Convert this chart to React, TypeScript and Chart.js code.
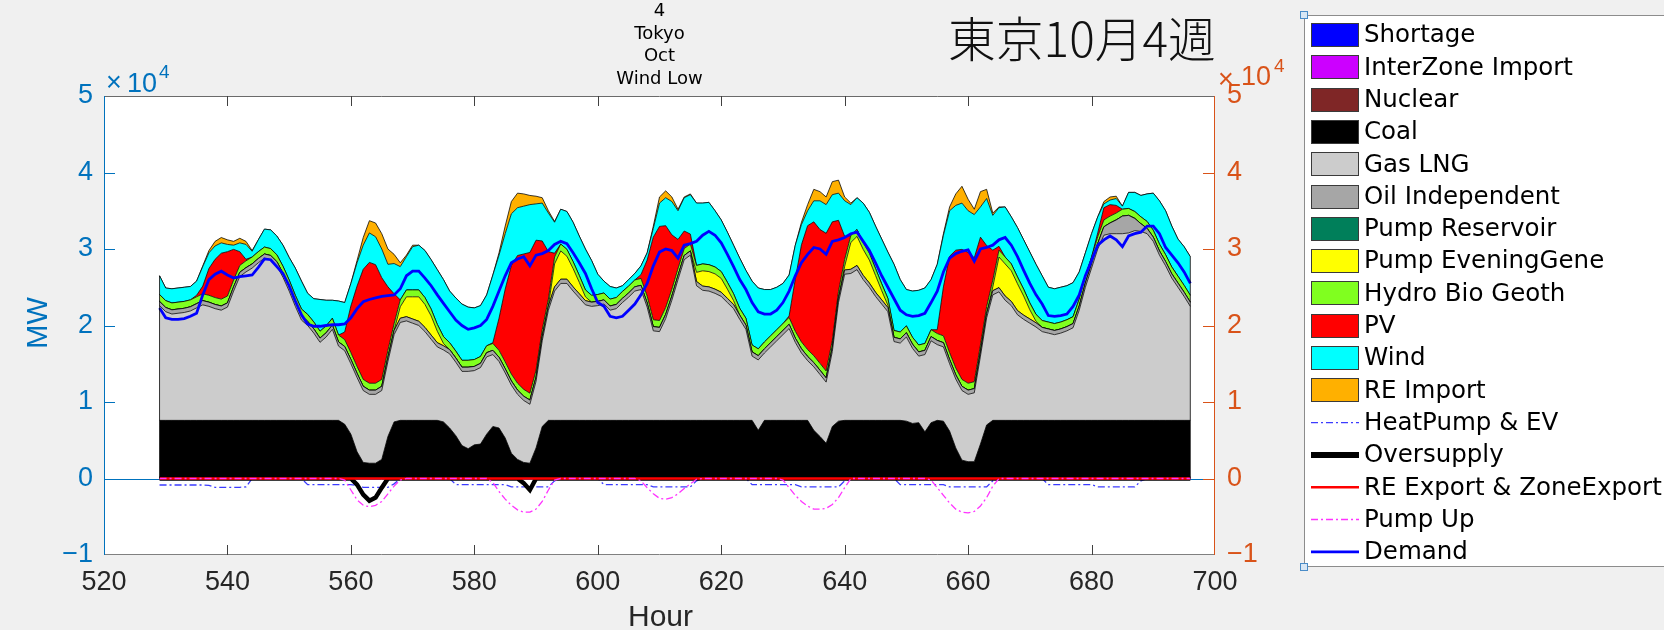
import React, { useEffect, useRef } from "react";
import { Chart, registerables } from "chart.js";

Chart.register(...registerables);

// ---------------- categories / ticks ----------------
const HOURS: number[] = Array.from({ length: 168 }, (_, i) => 529 + i);
const X_TICKS = [520, 540, 560, 580, 600, 620, 640, 660, 680, 700];
const Y_TICKS = [-10000, 0, 10000, 20000, 30000, 40000, 50000];
const TITLE_LINES = ["4", "Tokyo", "Oct", "Wind Low"];
const JP_TITLE = "東京10月4週";

// ---------------- series (MW), one row per day ----------------
const ZERO_SERIES = [
  0,0,0,0,0,0,0,0,0,0,0,0,0,0,0,0,0,0,0,0,0,0,0,0,
  0,0,0,0,0,0,0,0,0,0,0,0,0,0,0,0,0,0,0,0,0,0,0,0,
  0,0,0,0,0,0,0,0,0,0,0,0,0,0,0,0,0,0,0,0,0,0,0,0,
  0,0,0,0,0,0,0,0,0,0,0,0,0,0,0,0,0,0,0,0,0,0,0,0,
  0,0,0,0,0,0,0,0,0,0,0,0,0,0,0,0,0,0,0,0,0,0,0,0,
  0,0,0,0,0,0,0,0,0,0,0,0,0,0,0,0,0,0,0,0,0,0,0,0,
  0,0,0,0,0,0,0,0,0,0,0,0,0,0,0,0,0,0,0,0,0,0,0,0,
];
const shortage = ZERO_SERIES;
const interZoneImport = ZERO_SERIES;
const nuclear = ZERO_SERIES;
const pumpReservoir = ZERO_SERIES;
const reExport = ZERO_SERIES;

const coal = [
  7600,7600,7600,7600,7600,7600,7600,7600,7600,7600,7600,7600,7600,7600,7600,7600,7600,7600,7600,7600,7600,7600,7600,7600,
  7600,7600,7600,7600,7600,7600,7100,5800,3500,2100,2000,2000,2500,5500,7400,7600,7600,7600,7600,7600,7600,7600,7400,6600,
  5600,4300,3900,4400,4500,5800,6800,6600,5300,3300,2500,2100,2000,4000,6800,7600,7600,7600,7600,7600,7600,7600,7600,7600,
  7600,7600,7600,7600,7600,7600,7600,7600,7600,7600,7600,7600,7600,7600,7600,7600,7600,7600,7600,7600,7600,7600,7600,7600,
  7600,6300,7600,7600,7600,7600,7600,7600,7600,7600,6300,5500,4600,6800,7500,7600,7600,7600,7600,7600,7600,7600,7600,7600,
  7600,7500,7200,7300,6100,7300,7600,7500,6200,4000,2400,2200,2200,4500,7000,7600,7600,7600,7600,7600,7600,7600,7600,7600,
  7600,7600,7600,7600,7600,7600,7600,7600,7600,7600,7600,7600,7600,7600,7600,7600,7600,7600,7600,7600,7600,7600,7600,7600,
];

const gasLNG = [
  15000,14200,13900,14000,14100,14300,14700,15100,14900,14600,14400,14800,16900,18800,19400,19900,20600,21200,21000,20200,18700,16900,14900,13100,
  12400,11400,10200,10900,11900,9700,9600,9200,9700,9400,9000,9000,9000,9800,11400,12800,13000,12700,12400,11600,10600,9600,9400,9700,
  9600,9700,10100,9700,10000,10100,9400,8700,8500,8900,8500,8100,7700,8700,11200,14400,16900,17900,17900,16900,16000,15100,14900,15000,
  15200,14400,14600,15400,16100,16900,17100,14800,11700,11600,13300,15700,18400,21000,21600,17600,17000,16900,16600,16200,15400,14600,13200,11900,
  8400,9200,8800,9600,10400,11200,12000,10200,8800,7800,8300,8100,8000,9800,15500,19100,19200,19700,18400,17400,16200,15200,14200,10300,
  10100,11000,9800,8700,10100,10700,9900,9700,8800,9000,9100,8800,9000,11500,14000,16400,16800,15700,15000,13800,13200,12700,12200,11600,
  11400,11200,11400,11700,12100,14400,17400,19900,22400,24200,24400,24400,24400,24500,24800,24700,24400,23400,21600,20200,18600,17400,16200,14900,
];

const oilIndependent = [
  550,550,550,550,550,550,550,550,550,550,550,550,550,550,550,550,550,550,550,550,550,550,550,550,
  550,550,550,550,550,550,550,550,550,550,550,550,550,550,550,550,550,550,550,550,550,550,550,550,
  550,550,550,550,550,550,550,550,550,550,550,550,550,550,550,550,550,550,550,550,550,550,550,550,
  550,550,550,550,550,550,550,550,550,550,550,550,550,550,550,550,550,550,550,550,550,550,550,550,
  550,550,550,550,550,550,550,550,550,550,550,550,550,550,550,550,550,550,550,550,550,550,550,550,
  550,550,550,550,550,550,550,550,550,550,550,550,550,550,550,550,550,550,550,550,550,550,550,550,
  550,550,550,550,550,550,550,550,700,1100,1400,1800,2300,2300,1600,1000,700,550,550,550,550,550,550,550,
];

const pumpEveningGene = [
  0,0,0,0,0,0,0,0,0,0,0,0,0,0,0,0,0,0,0,0,0,0,0,0,
  0,0,0,0,0,0,0,0,0,0,0,0,0,0,0,1500,2600,2900,3200,3000,2500,1500,300,0,
  0,0,0,0,0,0,0,0,0,0,0,0,0,0,0,0,3000,3700,3000,2400,1500,500,0,0,
  0,0,0,0,0,0,0,0,0,0,0,0,0,0,0,1200,2000,2000,2000,1800,1200,500,0,0,
  0,0,0,0,0,0,0,0,0,0,0,0,0,0,0,500,3500,3800,3400,3000,2200,1200,300,0,
  0,0,0,0,0,0,0,0,0,0,0,0,0,0,0,500,4000,4200,4000,3500,2500,1200,200,0,
  0,0,0,0,0,0,0,0,0,0,0,0,0,0,0,0,0,0,0,0,0,0,0,0,
];

const hydroBioGeoth = [
  900,900,900,900,900,900,900,900,900,900,900,900,900,900,900,900,900,900,900,900,900,900,900,900,
  900,900,900,900,900,900,900,900,900,900,900,900,900,900,900,900,900,900,900,900,900,900,900,900,
  900,900,900,900,900,900,900,900,900,900,900,900,900,900,900,900,900,900,900,900,900,900,900,900,
  900,900,900,900,900,900,900,900,900,900,900,900,900,900,900,900,900,900,900,900,900,900,900,900,
  900,900,900,900,900,900,900,900,900,900,900,900,900,900,900,900,900,900,900,900,900,900,900,900,
  900,900,900,900,900,900,900,900,900,900,900,900,900,900,900,900,900,900,900,900,900,900,900,900,
  900,900,900,900,900,900,900,900,900,900,900,900,900,900,900,900,900,900,900,900,900,900,900,900,
];

const pv = [
  0,0,0,0,0,0,200,1000,3500,5000,6000,5800,4000,1800,200,0,0,0,0,0,0,0,0,0,
  0,0,0,0,0,0,1000,6100,10500,14400,15800,15500,13300,8300,3900,0,0,0,0,0,0,0,0,0,
  0,0,0,0,0,0,100,4200,9500,14200,16700,17700,18400,17000,11600,6200,500,0,0,0,0,0,0,0,
  0,0,0,0,0,0,500,4700,10800,12300,10700,7100,3800,2300,1300,0,0,0,0,0,0,0,0,0,
  0,0,0,0,0,0,200,6800,12700,16200,17500,17500,18000,15500,9300,3000,0,0,0,0,0,0,0,0,
  0,0,0,0,0,0,500,6400,12600,15400,17000,17100,16200,14100,8000,3900,500,0,0,0,0,0,0,0,
  0,0,0,0,0,0,0,0,500,1600,1500,1000,0,0,0,0,0,0,0,0,0,0,0,0,
];

const wind = [
  2450,1650,1850,1850,1850,1750,1850,2550,2050,1750,1350,950,550,1150,1950,750,1550,2350,2450,2450,2750,2950,3550,3650,
  2750,3050,4150,3350,2350,4450,3850,2950,3050,3150,3850,3650,3750,2950,3950,4350,4350,5650,5850,6150,6450,7150,7450,6750,
  6950,7350,6950,6750,6650,6650,8850,8250,7250,6750,6250,6250,6250,4750,4950,5050,4050,4550,4950,5150,5150,5350,4550,2650,
  1550,1650,1250,750,850,850,1150,950,1150,3050,3650,4350,3750,4350,5150,8150,7950,8150,7350,6750,6550,6350,6550,6250,
  8350,7950,6850,6050,5550,5250,5350,4450,2650,1950,2750,3750,3750,3550,3550,4650,4050,4150,5150,5350,5550,5850,6050,8650,
  6850,4750,6050,7150,7250,6550,8550,6750,5950,5850,6050,5450,5650,3950,6150,4550,5050,6550,6150,6450,6450,6650,6550,5850,
  4550,4550,4550,4450,4450,3550,3050,3050,2100,500,600,900,400,2100,2500,2800,3600,4850,5650,5750,5350,4850,5050,5050,
];

const reImport = [
  0,0,0,0,0,0,0,100,300,600,700,600,500,600,400,100,0,0,0,0,0,0,0,0,
  0,0,0,0,0,0,0,0,300,1000,1600,1800,2000,2000,1200,500,200,200,0,0,0,0,0,0,
  0,0,0,0,0,0,0,300,1000,1600,1900,1600,1200,1000,700,300,100,0,0,0,0,0,0,0,
  0,0,0,0,0,0,0,0,300,800,900,600,200,100,100,0,0,0,0,0,0,0,0,0,
  0,0,0,0,0,0,0,0,300,800,1500,1200,1000,1700,1700,500,200,0,0,0,0,0,0,0,
  0,0,0,0,0,0,0,200,500,1500,2200,1500,700,2000,1200,300,100,0,0,0,0,0,0,0,
  0,0,0,0,0,0,0,0,0,300,400,300,0,0,0,0,0,0,0,0,0,0,0,0,
];

const heatPumpEV = [
  -850,-850,-850,-850,-850,-850,-850,-850,-900,-1150,-1150,-1150,-1150,-1150,-1100,0,0,0,0,0,0,0,0,0,
  -800,-800,-800,-800,-800,-800,-800,-800,-900,-1150,-1150,-1150,-1150,-1150,-700,0,0,0,0,0,0,0,0,0,
  -800,-800,-800,-800,-800,-800,-800,-800,-800,-1100,-1100,-1100,-1100,-1100,-1100,-1100,-300,0,0,0,0,0,0,0,
  -800,-800,-800,-800,-800,-800,-800,-800,-1100,-1100,-1100,-1100,-1100,-1100,-1100,-300,0,0,0,0,0,0,0,0,
  -800,-800,-800,-800,-800,-800,-800,-800,-1100,-1100,-1100,-1100,-1100,-1100,-1100,-300,0,0,0,0,0,0,0,0,
  -800,-800,-800,-800,-800,-800,-800,-800,-1100,-1100,-1100,-1100,-1100,-1100,-1100,-300,0,0,0,0,0,0,0,0,
  -800,-800,-800,-800,-800,-800,-800,-800,-1100,-1100,-1100,-1100,-1100,-1100,-1100,-300,0,0,0,0,0,0,0,0,
];

const oversupply = [
  0,0,0,0,0,0,0,0,0,0,0,0,0,0,0,0,0,0,0,0,0,0,0,0,
  0,0,0,0,0,0,0,0,-800,-2100,-2900,-2500,-1200,0,0,0,0,0,0,0,0,0,0,0,
  0,0,0,0,0,0,0,0,0,0,0,-600,-1500,0,0,0,0,0,0,0,0,0,0,0,
  0,0,0,0,0,0,0,0,0,0,0,0,0,0,0,0,0,0,0,0,0,0,0,0,
  0,0,0,0,0,0,0,0,0,0,0,0,0,0,0,0,0,0,0,0,0,0,0,0,
  0,0,0,0,0,0,0,0,0,0,0,0,0,0,0,0,0,0,0,0,0,0,0,0,
  0,0,0,0,0,0,0,0,0,0,0,0,0,0,0,0,0,0,0,0,0,0,0,0,
];

const pumpUp = [
  0,0,0,0,0,0,0,0,0,0,0,0,0,0,0,0,0,0,0,0,0,0,0,0,
  0,0,0,0,0,0,-200,-1500,-2800,-3500,-3700,-3500,-3000,-2000,-1000,-200,0,0,0,0,0,0,0,0,
  0,0,0,0,0,0,-500,-1700,-2700,-3500,-4100,-4400,-4400,-4000,-3000,-1500,-200,0,0,0,0,0,0,0,
  0,0,0,0,0,0,-300,-1200,-2000,-2600,-2700,-2500,-2000,-1300,-700,-100,0,0,0,0,0,0,0,0,
  0,0,0,0,0,-200,-1200,-2200,-3000,-3600,-4000,-4000,-3900,-3400,-2500,-1200,0,0,0,0,0,0,0,0,
  0,0,0,0,0,-200,-1200,-2200,-3200,-4000,-4400,-4500,-4300,-3600,-2500,-1000,0,0,0,0,0,0,0,0,
  0,0,0,0,0,0,0,0,0,0,0,0,0,0,0,0,0,0,0,0,0,0,0,0,
];

const demand = [
  22300,21000,20800,20800,20900,21200,21600,24000,26000,26700,27100,26600,26200,26400,26500,26600,27600,28700,28600,27700,26800,25200,23200,21400,
  20200,19900,19900,20000,20100,20100,20200,21000,22200,23100,23400,23600,23800,23900,24000,24800,26500,27100,27100,26200,25200,24000,22900,21800,
  20700,20000,19500,19700,20000,20800,22500,24500,26500,28200,28700,29000,27800,29200,29400,29800,30600,31000,30700,29500,28200,26800,24800,23000,
  22500,21200,21000,21200,22000,22800,24000,25500,27800,29600,30000,29800,28800,30500,30700,31000,31800,32300,31800,30800,29300,27700,26000,24700,
  23000,21800,21500,21500,22000,23000,24500,26500,28200,29300,30200,30000,29300,31000,31200,31500,32000,32200,31000,29800,28200,26500,25000,23500,
  22000,21400,21200,21300,21600,23000,24500,27000,28800,29400,29700,29900,28400,30000,30200,30500,31200,31500,30500,29000,27200,25500,24000,22800,
  21300,21200,21300,21500,22500,24000,26500,28500,30500,31200,31700,31200,30300,31700,32000,32200,33000,33000,32000,30200,29200,28200,27000,25500,
];

// ---------------- series definitions ----------------
const AREAS = [
  { label: "Shortage", data: shortage, color: "#0000ff" },
  { label: "InterZone Import", data: interZoneImport, color: "#cc00ff" },
  { label: "Nuclear", data: nuclear, color: "#7f2626" },
  { label: "Coal", data: coal, color: "#000000" },
  { label: "Gas LNG", data: gasLNG, color: "#cccccc" },
  { label: "Oil Independent", data: oilIndependent, color: "#a6a6a6" },
  { label: "Pump Reservoir", data: pumpReservoir, color: "#007f5a" },
  { label: "Pump EveningGene", data: pumpEveningGene, color: "#ffff00" },
  { label: "Hydro Bio Geoth", data: hydroBioGeoth, color: "#80ff1f" },
  { label: "PV", data: pv, color: "#ff0000" },
  { label: "Wind", data: wind, color: "#00ffff" },
  { label: "RE Import", data: reImport, color: "#ffb000" },
];

const LINES = [
  { label: "HeatPump & EV", data: heatPumpEV, color: "#3c3cff", width: 1.3, legendWidth: 1.3, dash: [7, 3, 2, 3], order: 5 },
  { label: "Oversupply", data: oversupply, color: "#000000", width: 4.5, legendWidth: 6, dash: [] as number[], order: 4 },
  { label: "RE Export & ZoneExport", data: reExport, color: "#ff0000", width: 2.5, legendWidth: 2.5, dash: [] as number[], order: 3 },
  { label: "Pump Up", data: pumpUp, color: "#ff33ff", width: 1.3, legendWidth: 1.3, dash: [7, 3, 2, 3], order: 2 },
  { label: "Demand", data: demand, color: "#0000ff", width: 2.8, legendWidth: 2.8, dash: [] as number[], order: 1 },
];

const AX_FONT = '"Liberation Sans", Arial, Helvetica, sans-serif';
const UI_FONT = '"DejaVu Sans", "Noto Sans", sans-serif';
const LEFT_COLOR = "#0072BD";
const RIGHT_COLOR = "#D95319";

const xy = (arr: number[]) => arr.map((y, i) => ({ x: HOURS[i], y }));
const fmt = (v: number) => {
  const n = Math.round(v / 10000);
  return n < 0 ? "\u2212" + Math.abs(n) : String(n);
};

function line(ctx: CanvasRenderingContext2D, x1: number, y1: number, x2: number, y2: number, color: string, w = 1) {
  ctx.strokeStyle = color;
  ctx.lineWidth = w;
  ctx.beginPath();
  ctx.moveTo(x1, y1);
  ctx.lineTo(x2, y2);
  ctx.stroke();
}

const decorPlugin = {
  id: "decor",
  beforeDraw(chart: any) {
    const { ctx, chartArea: a } = chart;
    ctx.save();
    ctx.fillStyle = "#f0f0f0";
    ctx.fillRect(0, 0, chart.width, chart.height);
    ctx.fillStyle = "#ffffff";
    ctx.fillRect(a.left, a.top, a.right - a.left, a.bottom - a.top);
    ctx.restore();
  },
  beforeDatasetsDraw(chart: any) {
    const { ctx, chartArea: a, scales } = chart;
    const y0 = Math.round(scales.y.getPixelForValue(0)) + 0.5;
    ctx.save();
    line(ctx, a.left, y0, a.right, y0, LEFT_COLOR, 1);
    ctx.restore();
  },
  afterDatasetsDraw(chart: any) {
    const { ctx, scales } = chart;
    const ends = [0, HOURS.length - 1];
    ctx.save();
    for (const i of ends) {
      let total = 0;
      for (const a of AREAS) total += a.data[i];
      const px = scales.x.getPixelForValue(HOURS[i]);
      line(ctx, px, scales.y.getPixelForValue(0), px, scales.y.getPixelForValue(total), "rgba(0,0,0,0.8)", 1);
    }
    ctx.restore();
  },
  afterDraw(chart: any) {
    const { ctx, chartArea: a, scales } = chart;
    const sx = scales.x;
    const sy = scales.y;
    ctx.save();
    // frame
    line(ctx, a.left, a.top + 0.5, a.right, a.top + 0.5, "#6a6a6a");
    line(ctx, a.left, a.bottom - 0.5, a.right, a.bottom - 0.5, "#808080");
    line(ctx, a.left + 0.5, a.top, a.left + 0.5, a.bottom, LEFT_COLOR);
    line(ctx, a.right - 0.5, a.top, a.right - 0.5, a.bottom, RIGHT_COLOR);
    // inward tick marks
    for (const v of X_TICKS) {
      if (v === X_TICKS[0] || v === X_TICKS[X_TICKS.length - 1]) continue;
      const px = Math.round(sx.getPixelForValue(v)) + 0.5;
      line(ctx, px, a.bottom, px, a.bottom - 10, "#404040");
      line(ctx, px, a.top, px, a.top + 10, "#404040");
    }
    for (const v of Y_TICKS) {
      if (v === Y_TICKS[0] || v === Y_TICKS[Y_TICKS.length - 1]) continue;
      const py = Math.round(sy.getPixelForValue(v)) + 0.5;
      line(ctx, a.left, py, a.left + 11, py, LEFT_COLOR);
      line(ctx, a.right, py, a.right - 12, py, RIGHT_COLOR);
    }

    // exponent labels
    ctx.textAlign = "left";
    ctx.textBaseline = "alphabetic";
    ctx.fillStyle = LEFT_COLOR;
    ctx.font = `27px ${AX_FONT}`;
    ctx.fillText("\u00d7", 106, 91);
    ctx.fillText("10", 127, 92);
    ctx.font = `19px ${AX_FONT}`;
    ctx.fillText("4", 159, 78);
    ctx.fillStyle = RIGHT_COLOR;
    ctx.font = `27px ${AX_FONT}`;
    ctx.fillText("\u00d7", 1218, 88);
    ctx.fillText("10", 1241, 85);
    ctx.font = `19px ${AX_FONT}`;
    ctx.fillText("4", 1274, 72);

    // small title lines
    ctx.fillStyle = "#000";
    ctx.textAlign = "center";
    ctx.textBaseline = "middle";
    ctx.font = `18px ${UI_FONT}`;
    const cx = (a.left + a.right) / 2;
    TITLE_LINES.forEach((t, i) => ctx.fillText(t, cx, 11.5 + i * 22.6));

    // big Japanese title
    ctx.textAlign = "left";
    let fs = 44;
    ctx.font = `300 ${fs}px "Noto Sans CJK JP", "Noto Sans CJK SC", sans-serif`;
    const w = ctx.measureText(JP_TITLE).width;
    fs = Math.max(38, Math.min(50, (fs * 268) / w));
    ctx.font = `300 ${fs}px "Noto Sans CJK JP", "Noto Sans CJK SC", sans-serif`;
    ctx.fillStyle = "#111";
    ctx.fillText(JP_TITLE, 948, 39);

    // axis titles
    ctx.fillStyle = "#262626";
    ctx.font = `30px ${AX_FONT}`;
    ctx.textAlign = "center";
    ctx.textBaseline = "alphabetic";
    ctx.fillText("Hour", cx + 1, 626);
    ctx.save();
    ctx.translate(47, 323);
    ctx.rotate(-Math.PI / 2);
    ctx.fillStyle = LEFT_COLOR;
    ctx.font = `29px ${AX_FONT}`;
    ctx.fillText("MW", 0, 0);
    ctx.restore();

    // legend
    const lx = 1304, ly = 15, lb = 567;
    ctx.fillStyle = "#ffffff";
    ctx.fillRect(lx, ly, chart.width - lx, lb - ly);
    ctx.strokeStyle = "#8c8c8c";
    ctx.lineWidth = 1;
    ctx.beginPath();
    ctx.moveTo(chart.width, ly + 0.5);
    ctx.lineTo(lx + 0.5, ly + 0.5);
    ctx.lineTo(lx + 0.5, lb - 0.5);
    ctx.lineTo(chart.width, lb - 0.5);
    ctx.stroke();
    const items: any[] = [
      ...AREAS.map((s) => ({ label: s.label, kind: "patch", color: s.color })),
      ...LINES.map((s) => ({ label: s.label, kind: "line", color: s.color, width: s.legendWidth, dash: s.dash })),
    ];
    ctx.font = `24.5px ${UI_FONT}`;
    ctx.textBaseline = "middle";
    ctx.textAlign = "left";
    items.forEach((it, i) => {
      const yc = 35 + i * 32.3;
      if (it.kind === "patch") {
        ctx.fillStyle = it.color;
        ctx.fillRect(1311, Math.round(yc - 12), 48, 24);
        ctx.strokeStyle = "#3a3a3a";
        ctx.lineWidth = 1;
        ctx.strokeRect(1311.5, Math.round(yc - 12) + 0.5, 47, 23);
      } else {
        ctx.save();
        ctx.setLineDash(it.dash);
        line(ctx, 1311, yc, 1359, yc, it.color, it.width);
        ctx.restore();
      }
      ctx.fillStyle = "#000";
      ctx.fillText(it.label, 1364, yc + 1);
    });
    // selection handles
    for (const hy of [ly, lb]) {
      ctx.fillStyle = "#d8e7f5";
      ctx.fillRect(lx - 4, hy - 4, 8, 8);
      ctx.strokeStyle = "#4a8cc8";
      ctx.strokeRect(lx - 3.5, hy - 3.5, 7, 7);
    }
    ctx.restore();
  },
};

export default function App() {
  const ref = useRef<HTMLCanvasElement | null>(null);

  useEffect(() => {
    const canvas = ref.current;
    if (!canvas) return;

    const areaSets = AREAS.map((s, i) => ({
      type: "line" as const,
      label: s.label,
      data: xy(s.data),
      backgroundColor: s.color,
      borderColor: i < 3 ? "rgba(0,0,0,0)" : "rgba(0,0,0,0.85)",
      borderWidth: i < 3 ? 0 : 0.9,
      fill: i === 0 ? "origin" : "-1",
      stack: "generation",
      order: 10,
      pointRadius: 0,
      tension: 0,
    }));
    const lineSets = LINES.map((s) => ({
      type: "line" as const,
      label: s.label,
      data: xy(s.data),
      borderColor: s.color,
      backgroundColor: s.color,
      borderWidth: s.width,
      borderDash: s.dash,
      fill: false,
      stack: "line-" + s.label,
      order: s.order,
      pointRadius: 0,
      tension: 0,
    }));

    const chart = new Chart(canvas, {
      type: "line",
      data: { datasets: [...areaSets, ...lineSets] as any },
      options: {
        responsive: false,
        animation: false,
        events: [],
        layout: { padding: { top: 96, left: 0, right: 0, bottom: 0 } },
        plugins: { legend: { display: false }, tooltip: { enabled: false }, title: { display: false } },
        elements: { point: { radius: 0 } },
        scales: {
          x: {
            type: "linear",
            min: 520,
            max: 700,
            grid: { display: false, drawTicks: false },
            border: { display: false },
            ticks: { font: { family: AX_FONT, size: 27 }, color: "#262626", padding: 11, maxRotation: 0, autoSkip: false },
            afterBuildTicks: (s: any) => {
              s.ticks = X_TICKS.map((v) => ({ value: v }));
            },
            afterFit: (s: any) => {
              s.height = 75;
            },
          },
          y: {
            type: "linear",
            position: "left",
            stacked: true,
            min: -10000,
            max: 50000,
            grid: { display: false, drawTicks: false },
            border: { display: false },
            ticks: { font: { family: AX_FONT, size: 27 }, color: LEFT_COLOR, padding: 11, callback: (v: any) => fmt(Number(v)) },
            afterBuildTicks: (s: any) => {
              s.ticks = Y_TICKS.map((v) => ({ value: v }));
            },
            afterFit: (s: any) => {
              s.width = 104;
            },
          },
          y1: {
            type: "linear",
            position: "right",
            min: -10000,
            max: 50000,
            grid: { display: false, drawTicks: false },
            border: { display: false },
            ticks: { font: { family: AX_FONT, size: 27 }, color: RIGHT_COLOR, padding: 12, callback: (v: any) => fmt(Number(v)) },
            afterBuildTicks: (s: any) => {
              s.ticks = Y_TICKS.map((v) => ({ value: v }));
            },
            afterFit: (s: any) => {
              s.width = 449;
            },
          },
        },
      } as any,
      plugins: [decorPlugin],
    });

    return () => chart.destroy();
  }, []);

  return (
    <div style={{ position: "fixed", left: 0, top: 0, width: 1664, height: 630, background: "#f0f0f0" }}>
      <canvas ref={ref} width={1664} height={630} style={{ width: 1664, height: 630, display: "block" }} />
    </div>
  );
}
